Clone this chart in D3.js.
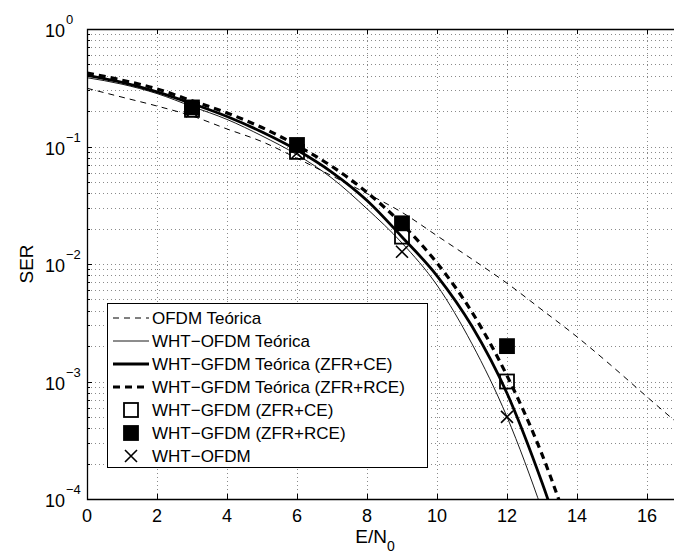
<!DOCTYPE html>
<html>
<head>
<meta charset="utf-8">
<script src="https://cdn.jsdelivr.net/npm/d3@7"></script>
<style>
  body { margin: 0; background: #fff; }
  text { font-family: "Liberation Sans", Arial, Helvetica, sans-serif; fill: #000; }
  .tick { font-size: 18px; }
  .legend { font-size: 17px; }
  .grid { stroke: #8a8a8a; stroke-width: 1; stroke-dasharray: 1,3; shape-rendering: crispEdges; }
</style>
</head>
<body>
<div id="chart"></div>
<script>
// curves, one value per dB from 0
var snrOfdm = [0, 1, 2, 3, 4, 5, 6, 7, 8, 9, 10, 11, 12, 13, 14, 15, 16, 17]
var serOfdm = [0.313, 0.263, 0.221, 0.182, 0.141, 0.110, 0.0794, 0.0562, 0.0398, 0.0275,
    0.0174, 0.0110, 0.00686, 0.00407, 0.00240, 0.00135, 0.00074, 0.00041]

var snrTheory = [0, 1, 2, 3, 4, 5, 6, 7, 8, 9, 10, 11, 12, 13, 14]
var serWhtOfdm = [0.385, 0.339, 0.282, 0.219, 0.170, 0.123, 0.0851, 0.0537, 0.0295, 0.0151,
    0.0066, 0.00209, 0.00050, 0.000081, 0.00001]
var serGfdmCE = [0.403, 0.351, 0.292, 0.232, 0.180, 0.133, 0.0933, 0.0603, 0.0347, 0.0170,
    0.00794, 0.00295, 0.000794, 0.000138, 0.0000178]
var serGfdmRCE = [0.422, 0.367, 0.309, 0.245, 0.193, 0.145, 0.102, 0.0676, 0.0407, 0.0219,
    0.0102, 0.00389, 0.00112, 0.00024, 0.000035]

// simulated points
var snrSim = [3, 6, 9, 12]
var simCE = [0.205, 0.090, 0.0171, 0.00100]
var simRCE = [0.215, 0.103, 0.0222, 0.00200]
var simWht = [0.200, 0.088, 0.0127, 0.00050]

var legendLabels = [
    'OFDM Teórica',
    'WHT\u2212OFDM Teórica',
    'WHT\u2212GFDM Teórica (ZFR+CE)',
    'WHT\u2212GFDM Teórica (ZFR+RCE)',
    'WHT\u2212GFDM (ZFR+CE)',
    'WHT\u2212GFDM (ZFR+RCE)',
    'WHT\u2212OFDM'
]

var xTicks = [0, 2, 4, 6, 8, 10, 12, 14, 16]
var yExps = [0, -1, -2, -3, -4]

var width = 674, height = 557
var plotLeft = 87, plotTop = 29, plotBottom = 499

var svg = d3.select('#chart').append('svg')
    .attr('width', width)
    .attr('height', height)

var x = d3.scaleLinear().domain([0, 17]).range([plotLeft, plotLeft + 17 * 35])
var y = d3.scaleLog().domain([1e-4, 1]).range([plotBottom, plotTop])

svg.append('clipPath').attr('id', 'plot')
    .append('rect')
    .attr('x', plotLeft).attr('y', plotTop)
    .attr('width', x(17) - plotLeft).attr('height', plotBottom - plotTop)

// minor log values for the grid
var minor = []
yExps.forEach(function (e) {
    if (e == 0) return
    for (var k = 1; k <= 9; k++) minor.push(k * Math.pow(10, e))
})
minor.push(1)

var grid = svg.append('g')
grid.selectAll('.hg').data(minor).enter().append('line')
    .attr('class', 'grid')
    .attr('x1', plotLeft).attr('x2', width)
    .attr('y1', function (d) { return Math.round(y(d)) + 0.5 })
    .attr('y2', function (d) { return Math.round(y(d)) + 0.5 })
grid.selectAll('.vg').data(xTicks.slice(1)).enter().append('line')
    .attr('class', 'grid')
    .attr('x1', function (d) { return Math.round(x(d)) + 0.5 })
    .attr('x2', function (d) { return Math.round(x(d)) + 0.5 })
    .attr('y1', plotTop).attr('y2', plotBottom)

// ticks, pointing inward
var ticks = svg.append('g').attr('stroke', '#000').attr('stroke-width', 1)
xTicks.forEach(function (t) {
    var px = Math.round(x(t)) + 0.5
    ticks.append('line').attr('x1', px).attr('x2', px).attr('y1', plotBottom).attr('y2', plotBottom - 5)
    ticks.append('line').attr('x1', px).attr('x2', px).attr('y1', plotTop).attr('y2', plotTop + 5)
})
minor.forEach(function (v) {
    var py = Math.round(y(v)) + 0.5
    var major = Math.abs(Math.log10(v) - Math.round(Math.log10(v))) < 1e-9
    ticks.append('line').attr('x1', plotLeft).attr('x2', plotLeft + (major ? 5 : 3)).attr('y1', py).attr('y2', py)
})

// axis box (right side falls outside the picture)
svg.append('path')
    .attr('d', 'M' + width + ',' + (plotTop + 0.5) + 'H' + (plotLeft + 0.5) + 'V' + (plotBottom + 0.5) + 'H' + width)
    .attr('fill', 'none')
    .attr('stroke', '#000')
    .attr('stroke-width', 1.3)

// tick labels
svg.selectAll('.xl').data(xTicks).enter().append('text')
    .attr('class', 'tick')
    .attr('x', function (d) { return x(d) })
    .attr('y', 522)
    .attr('text-anchor', 'middle')
    .text(function (d) { return d })

yExps.forEach(function (e) {
    svg.append('text')
        .attr('class', 'tick')
        .attr('x', 65)
        .attr('y', y(Math.pow(10, e)) + 8)
        .attr('text-anchor', 'end')
        .text('10')
    svg.append('text')
        .attr('x', 66)
        .attr('y', y(Math.pow(10, e)) - 5)
        .style('font-size', '13px')
        .text(e == 0 ? '0' : '\u2212' + (-e))
})

// axis titles
svg.append('text')
    .attr('transform', 'translate(33,264) rotate(-90)')
    .attr('text-anchor', 'middle')
    .style('font-size', '19px')
    .text('SER')

var xl = svg.append('text')
    .attr('x', 375)
    .attr('y', 543)
    .attr('text-anchor', 'middle')
    .style('font-size', '19px')
xl.append('tspan').text('E/N')
xl.append('tspan').attr('dy', 8).style('font-size', '14px').text('0')

// theoretical curves
var curves = [
    { xs: snrOfdm, ys: serOfdm, w: 1, dash: '6,5' },
    { xs: snrTheory, ys: serWhtOfdm, w: 0.9, dash: null },
    { xs: snrTheory, ys: serGfdmCE, w: 2.8, dash: null },
    { xs: snrTheory, ys: serGfdmRCE, w: 3.2, dash: '7,5' }
]

var line = d3.line()
    .x(function (d) { return x(d[0]) })
    .y(function (d) { return y(d[1]) })
    .curve(d3.curveMonotoneX)

var plot = svg.append('g').attr('clip-path', 'url(#plot)')
curves.forEach(function (c) {
    plot.append('path')
        .datum(d3.zip(c.xs, c.ys))
        .attr('d', line)
        .attr('fill', 'none')
        .attr('stroke', '#000')
        .attr('stroke-width', c.w)
        .attr('stroke-dasharray', c.dash)
})

// markers
var SQ = 14
var drawSquare = function (g, cx, cy, filled) {
    g.append('rect')
        .attr('x', cx - SQ / 2).attr('y', cy - SQ / 2)
        .attr('width', SQ).attr('height', SQ)
        .attr('fill', filled ? '#000' : 'none')
        .attr('stroke', '#000')
        .attr('stroke-width', 1.8)
}
var drawCross = function (g, cx, cy) {
    var s = 6
    g.append('path')
        .attr('d', 'M' + (cx - s) + ',' + (cy - s) + 'L' + (cx + s) + ',' + (cy + s) +
            'M' + (cx - s) + ',' + (cy + s) + 'L' + (cx + s) + ',' + (cy - s))
        .attr('stroke', '#000')
        .attr('stroke-width', 1.6)
}

snrSim.forEach(function (s, i) {
    drawSquare(plot, x(s), y(simCE[i]), false)
})
snrSim.forEach(function (s, i) {
    drawSquare(plot, x(s), y(simRCE[i]), true)
})
snrSim.forEach(function (s, i) {
    drawCross(plot, x(s), y(simWht[i]))
})

// legend
var lg = svg.append('g')
lg.append('rect')
    .attr('x', 107.5).attr('y', 303.5)
    .attr('width', 320).attr('height', 164)
    .attr('fill', '#fff')
    .attr('stroke', '#000')
    .attr('stroke-width', 1)

legendLabels.forEach(function (label, i) {
    var ly = 318 + i * 23
    if (i < 4) {
        lg.append('line')
            .attr('x1', 113).attr('x2', 149)
            .attr('y1', ly).attr('y2', ly)
            .attr('stroke', '#000')
            .attr('stroke-width', curves[i].w)
            .attr('stroke-dasharray', curves[i].dash)
    } else if (i == 4) {
        drawSquare(lg, 131, ly, false)
    } else if (i == 5) {
        drawSquare(lg, 131, ly, true)
    } else {
        drawCross(lg, 131, ly)
    }
    lg.append('text')
        .attr('class', 'legend')
        .attr('x', 152)
        .attr('y', ly + 6)
        .text(label)
})
</script>
</body>
</html>
